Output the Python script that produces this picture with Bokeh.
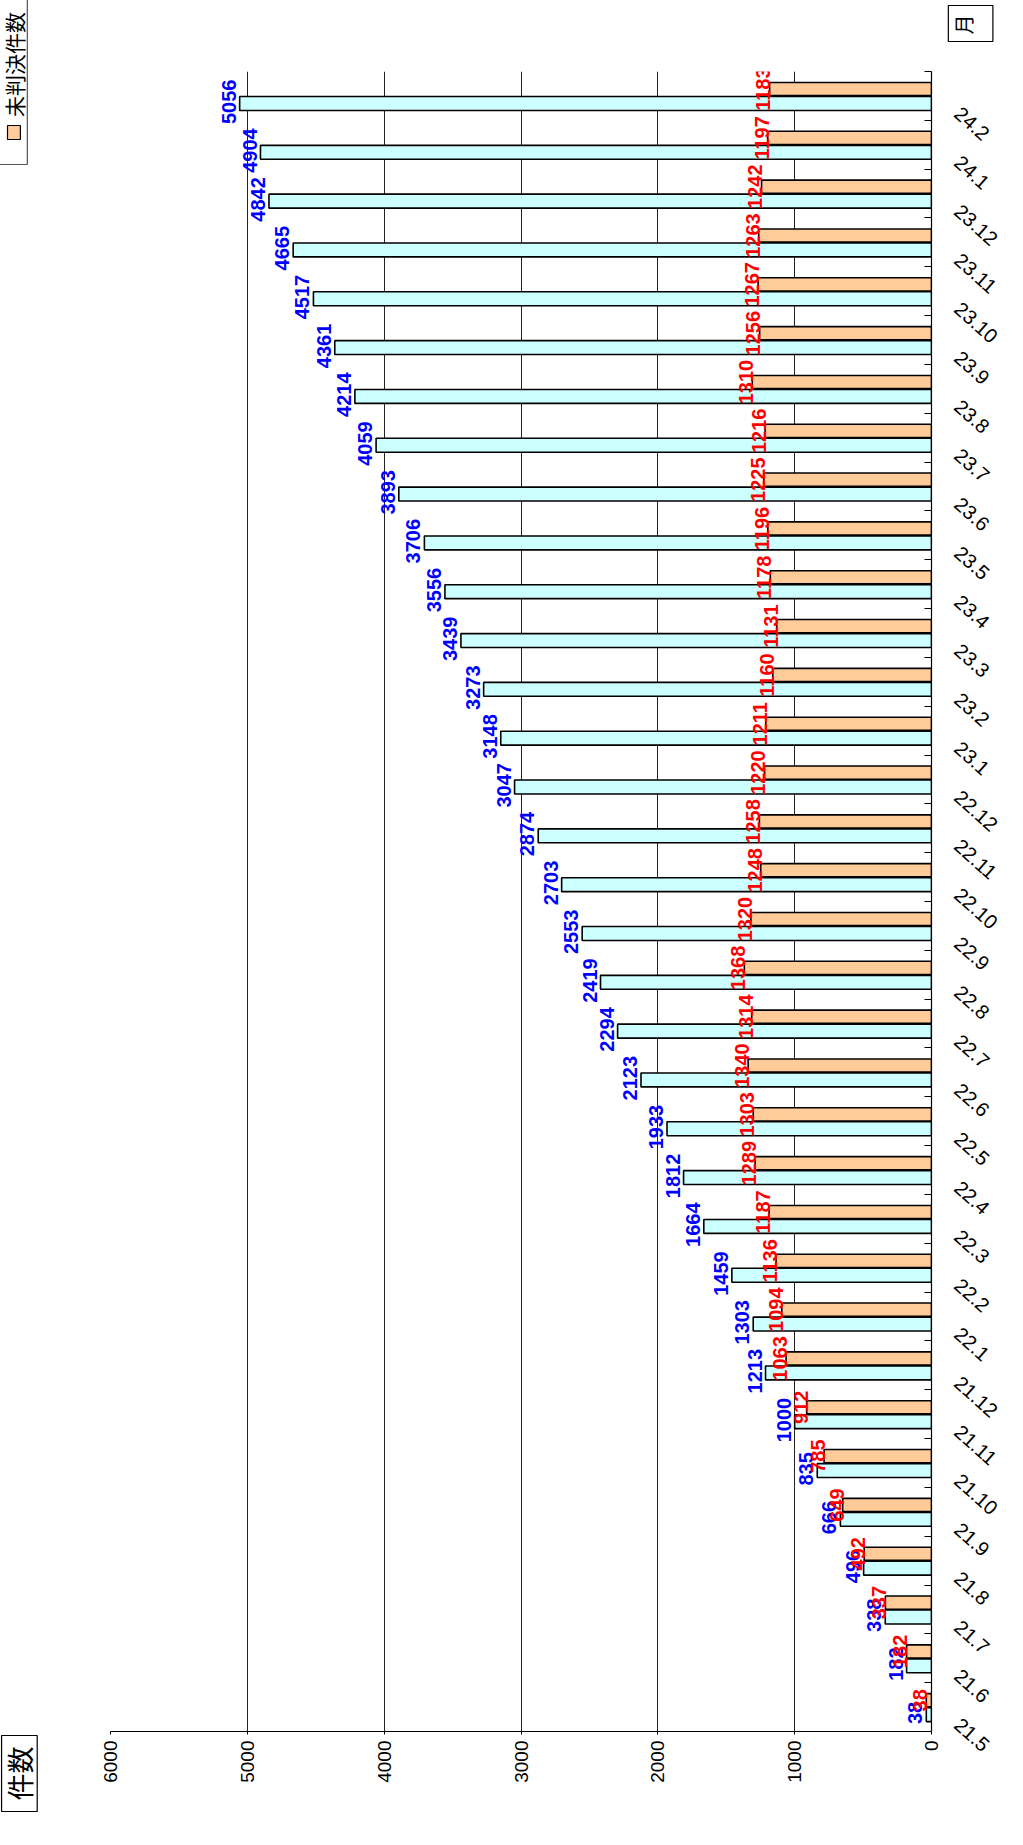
import math
from bokeh.plotting import figure
from bokeh.models import Range1d, FixedTicker, ColumnDataSource
from bokeh.transform import dodge
from bokeh.core.properties import value
from bokeh.embed import file_html
from bokeh.resources import INLINE

# ---- data ----
months = ["21.5", "21.6", "21.7", "21.8", "21.9", "21.10", "21.11", "21.12",
          "22.1", "22.2", "22.3", "22.4", "22.5", "22.6", "22.7", "22.8",
          "22.9", "22.10", "22.11", "22.12",
          "23.1", "23.2", "23.3", "23.4", "23.5", "23.6", "23.7", "23.8",
          "23.9", "23.10", "23.11", "23.12",
          "24.1", "24.2"]
cumulative = [38, 182, 338, 496, 666, 835, 1000, 1213,
              1303, 1459, 1664, 1812, 1933, 2123, 2294, 2419,
              2553, 2703, 2874, 3047,
              3148, 3273, 3439, 3556, 3706, 3893, 4059, 4214,
              4361, 4517, 4665, 4842,
              4904, 5056]
pending = [38, 182, 337, 492, 649, 785, 912, 1063,
           1094, 1136, 1187, 1289, 1303, 1340, 1314, 1368,
           1320, 1248, 1258, 1220,
           1211, 1160, 1131, 1178, 1196, 1225, 1216, 1310,
           1256, 1267, 1263, 1242,
           1197, 1183]
value_ticks = [0, 1000, 2000, 3000, 4000, 5000, 6000]
legend_pending = "未判決件数"
value_title = "件数"
month_title = "月"

n = len(months)
pos = [i + 0.5 for i in range(n)]
label_pos = [i + 0.2 for i in range(n)]
src = ColumnDataSource(dict(
    pos=pos, cum=cumulative, pend=pending,
    cum_txt=[str(v) for v in cumulative],
    pend_txt=[str(v) for v in pending],
))

CYAN = "#CCFFFF"
ORANGE = "#FFCC99"
FONT = "Liberation Sans"
JFONT = "Noto Sans CJK JP"
XMAX = 6000

p = figure(width=1007, height=1825, output_backend="svg", toolbar_location=None,
           x_range=Range1d(XMAX, 0), y_range=Range1d(0, n),
           x_axis_location="below", y_axis_location="right",
           min_border_left=110, min_border_right=68,
           min_border_top=71, min_border_bottom=94)
p.outline_line_color = None
p.background_fill_color = "white"
p.border_fill_color = "white"

# bars
p.hbar(y=dodge("pos", -0.155), height=0.285, left=0, right="cum", source=src,
       fill_color=CYAN, line_color="black", line_width=1.6)
p.hbar(y=dodge("pos", 0.14), height=0.27, left=0, right="pend", source=src,
       fill_color=ORANGE, line_color="black", line_width=1.6)

# value labels
p.text(x=dodge("cum", 80), y=dodge("pos", -0.12), text="cum_txt", source=src,
       angle=math.pi / 2, text_align="center", text_baseline="alphabetic",
       text_color="#0000FF", text_font=value(FONT), text_font_style="bold",
       text_font_size="20px")
p.text(x=dodge("pend", 45), y=dodge("pos", 0.14), text="pend_txt", source=src,
       angle=math.pi / 2, text_align="center", text_baseline="alphabetic",
       text_color="#FF0000", text_font=value(FONT), text_font_style="bold",
       text_font_size="20px")

# value axis
xa = p.xaxis[0]
xa.ticker = FixedTicker(ticks=value_ticks)
xa.major_label_orientation = math.pi / 2
xa.major_label_text_font = FONT
xa.major_label_text_font_size = "19px"
xa.major_label_text_color = "black"
xa.major_label_standoff = 6
xa.major_tick_out = 3
xa.major_tick_in = 0
xa.minor_tick_line_color = None
xa.axis_line_color = "black"
xa.axis_line_width = 1.2
xa.major_tick_line_color = "black"
p.xgrid.ticker = FixedTicker(ticks=value_ticks)
p.xgrid.grid_line_color = "#222222"
p.xgrid.grid_line_width = 1
p.ygrid.grid_line_color = None

# month axis (labels slanted, tick marks at category boundaries)
ya = p.yaxis[0]
ya.ticker = FixedTicker(ticks=label_pos, minor_ticks=list(range(n + 1)))
ya.major_label_overrides = {label_pos[i]: months[i] for i in range(n)}
ya.major_tick_line_color = None
ya.major_tick_in = 0
ya.major_tick_out = 0
ya.minor_tick_in = 7
ya.minor_tick_out = 0
ya.minor_tick_line_color = "black"
ya.axis_line_color = "black"
ya.axis_line_width = 1.2
ya.major_label_orientation = -0.73
ya.major_label_standoff = 26
ya.major_label_text_font = FONT
ya.major_label_text_font_size = "20px"
ya.major_label_text_color = "black"

# page pixel -> data coordinates (frame spans x 118..947, y 79..1739)
def vx(px):
    return XMAX * (947 - px) / 829.0

def vy(py):
    return n * (1739 - py) / 1660.0

def box(x0, x1, y0, y1, fill, line="black"):
    p.quad(left=[vx(x0)], right=[vx(x1)], bottom=[vy(y1)], top=[vy(y0)],
           fill_color=fill, line_color=line, line_width=1.2, level="overlay")

def vlabel(px, py, txt, size):
    p.text(x=[vx(px)], y=[vy(py)], text=[txt], angle=math.pi / 2,
           text_align="center", text_baseline="middle", text_color="black",
           text_font=value(JFONT), text_font_size=size, level="overlay")

# title boxes
box(8, 44, 1743, 1819, "white")
vlabel(26, 1781, value_title, "27px")
box(964, 1009, 13, 49, "white")
vlabel(979, 32, month_title, "20px")

# legend (its left part lies at the page edge)
box(-30, 34, -30, 172, "white", "#555555")
box(14, 27, 133, 147, ORANGE)
vlabel(21, 72, legend_pending, "21px")

open("out.html", "w").write(file_html(p, INLINE))
